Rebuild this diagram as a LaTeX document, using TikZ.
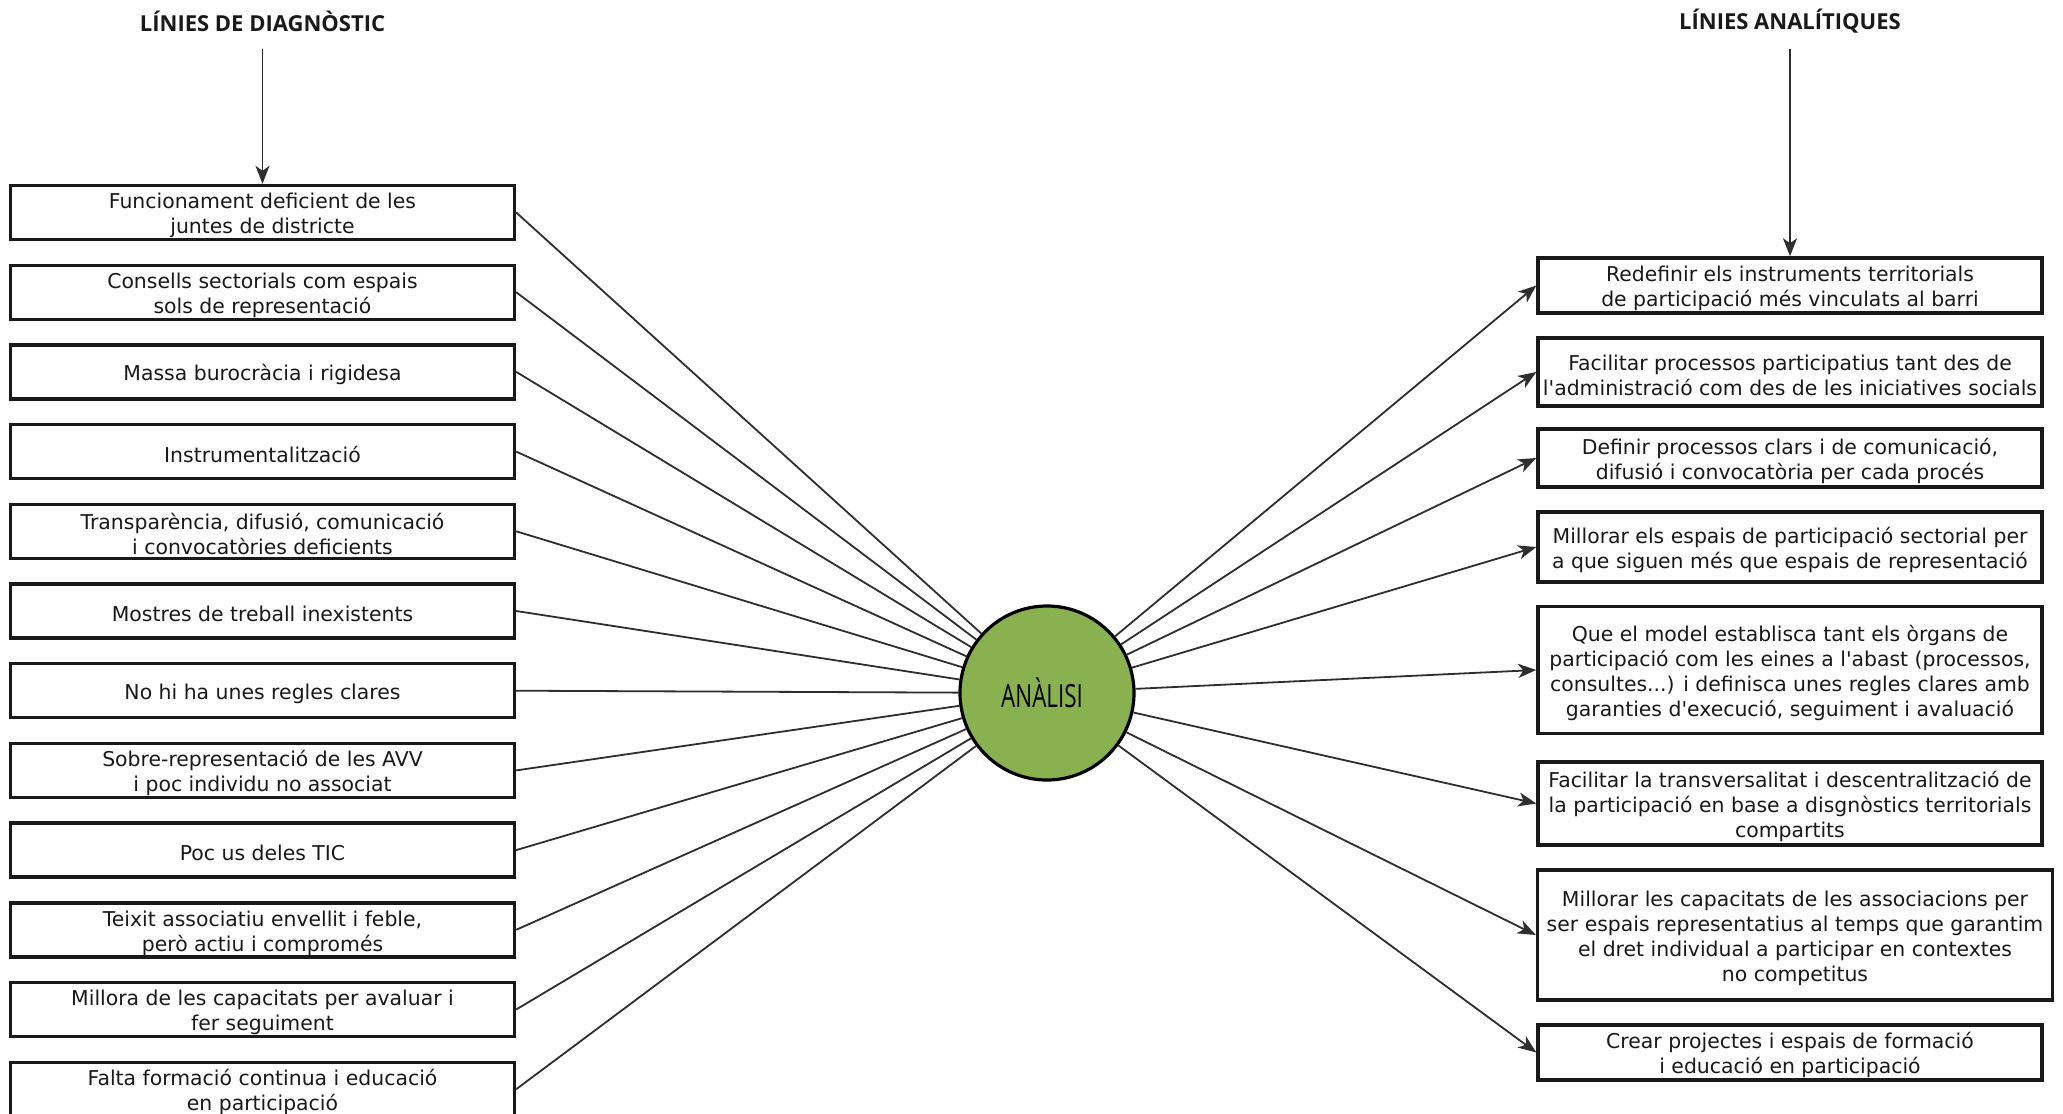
\documentclass[tikz,border=0pt]{standalone}
\usepackage{fontspec}
\usepackage{graphicx}
\setmainfont{DejaVu Sans}
\newfontfamily\titlefont{Open Sans}
\usetikzlibrary{arrows.meta}
\definecolor{circgreen}{HTML}{8AB150}
\newcommand{\bxs}{\rule{0pt}{11pt}}
\begin{document}
\begin{tikzpicture}[x=0.5pt,y=-0.5pt,
  box/.style={draw=black!90, line width=1.7pt, fill=white, inner sep=0pt, align=center,
    minimum width=252pt, font=\fontsize{10.2}{12.5}\selectfont, text=black!90},
  lbox/.style={box, minimum height=27pt},
  conn/.style={draw=black!82, line width=0.9pt},
  tip/.style={-{Stealth[length=9pt,width=7pt,inset=2.5pt]}},
  ttl/.style={font=\titlefont\bfseries\fontsize{11}{13}\selectfont, inner sep=0pt, text=black!90}
]
\fill[white] (0,0) rectangle (2063,1114);
\useasboundingbox (0,0) rectangle (2063,1114);

% titles
\node[ttl] (t1) at (262.5,21) {LÍNIES DE DIAGNÒSTIC};
\node[ttl] (t2) at (1790,21) {LÍNIES ANALÍTIQUES};

% left boxes
\node[lbox] (l1) at (262.5,212.5) {\bxs Funcionament deficient de les\\juntes de districte};
\node[lbox] (l2) at (262.5,292.2) {\bxs Consells sectorials com espais\\sols de representació};
\node[lbox] (l3) at (262.5,371.9) {\bxs Massa burocràcia i rigidesa};
\node[lbox] (l4) at (262.5,451.6) {\bxs Instrumentalització};
\node[lbox] (l5) at (262.5,531.3) {\bxs Transparència, difusió, comunicació\\i convocatòries deficients};
\node[lbox] (l6) at (262.5,611.0) {\bxs Mostres de treball inexistents};
\node[lbox] (l7) at (262.5,690.7) {\bxs No hi ha unes regles clares};
\node[lbox] (l8) at (262.5,770.4) {\bxs Sobre-representació de les AVV\\i poc individu no associat};
\node[lbox] (l9) at (262.5,850.1) {\bxs Poc us deles TIC};
\node[lbox] (l10) at (262.5,929.8) {\bxs Teixit associatiu envellit i feble,\\però actiu i compromés};
\node[lbox] (l11) at (262.5,1009.5) {\bxs Millora de les capacitats per avaluar i\\fer seguiment};
\node[lbox] (l12) at (262.5,1089.2) {\bxs Falta formació continua i educació\\en participació};

% right boxes
\node[box, minimum height=27.5pt] (r1) at (1790,285.5) {\bxs Redefinir els instruments territorials\\de participació més vinculats al barri};
\node[box, minimum height=34pt] (r2) at (1790,372) {\bxs Facilitar processos participatius tant des de\\l\textquotesingle administració com des de les iniciatives socials};
\node[box, minimum height=29pt] (r3) at (1790,458) {\bxs Definir processos clars i de comunicació,\\difusió i convocatòria per cada procés};
\node[box, minimum height=35pt] (r4) at (1790,547) {\bxs Millorar els espais de participació sectorial per\\a que siguen més que espais de representació};
\node[box, minimum height=63.5pt] (r5) at (1790,670) {\bxs Que el model establisca tant els òrgans de\\participació com les eines a l\textquotesingle abast (processos,\\consultes...) i definisca unes regles clares amb\\garanties d\textquotesingle execució, seguiment i avaluació};
\node[box, minimum height=41.5pt] (r6) at (1790,803.5) {\bxs Facilitar la transversalitat i descentralització de\\la participació en base a disgnòstics territorials\\compartits};
\node[box, minimum height=65pt, minimum width=257.5pt] (r7) at (1795,935) {\bxs Millorar les capacitats de les associacions per\\ser espais representatius al temps que garantim\\el dret individual a participar en contextes\\no competitus};
\node[box, minimum height=27.5pt] (r8) at (1790,1052.5) {\bxs Crear projectes i espais de formació\\i educació en participació};

% centre
\node[circle, draw=black, line width=1.6pt, fill=circgreen, minimum size=87pt, inner sep=0pt] (c) at (1047,693)
  {\hspace*{-5pt}\titlefont\fontsize{16}{18}\selectfont\scalebox{0.7}[1]{ANÀLISI}};

% title arrows
\coordinate (a1) at (262.5,49);
\coordinate (a2) at (1790,49);
\draw[conn,tip] (a1) -- (l1.north);
\draw[conn,tip] (a2) -- (r1.north);

% connectors
\foreach \i in {1,...,12} \draw[conn] (l\i.east) -- (c);
\foreach \i in {1,...,8} \draw[conn,tip] (c) -- (r\i.west);
\end{tikzpicture}
\end{document}
